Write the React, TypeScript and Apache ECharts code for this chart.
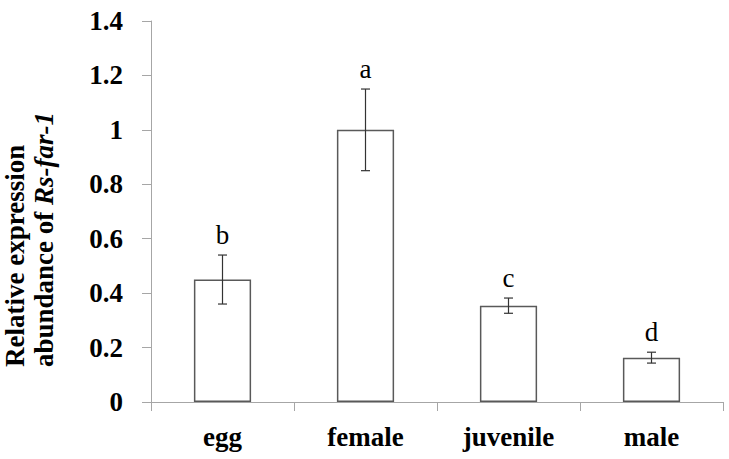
import React, { useEffect, useRef } from "react";
import * as echarts from "echarts";

const categories = ["egg", "female", "juvenile", "male"];
const means = [0.45, 1.0, 0.354, 0.163];
const errors = [0.09, 0.15, 0.028, 0.02];
const letters = ["b", "a", "c", "d"];
const yTicks = { min: 0, max: 1.4, interval: 0.2 };

const SERIF = "Liberation Serif";

export default function App() {
  const ref = useRef<HTMLDivElement>(null);
  useEffect(() => {
    if (!ref.current) return;
    const chart = echarts.init(ref.current, null, { renderer: "svg" });
    const errData = means.map((m, i) => [i, m - errors[i], m + errors[i]]);
    chart.setOption({
      animation: false,
      grid: { left: 151, right: 6, top: 21, bottom: 57 },
      xAxis: {
        type: "category",
        data: categories,
        axisLine: { lineStyle: { color: "#a6a6a6", width: 1 } },
        axisTick: { show: true, length: 9, lineStyle: { color: "#a6a6a6" } },
        axisLabel: {
          fontFamily: SERIF,
          fontWeight: "bold",
          fontSize: 27,
          color: "#000",
          margin: 21,
        },
      },
      yAxis: {
        type: "value",
        min: yTicks.min,
        max: yTicks.max,
        interval: yTicks.interval,
        splitLine: { show: false },
        axisLine: { show: true, lineStyle: { color: "#a6a6a6", width: 1 } },
        axisTick: { show: true, length: 9, lineStyle: { color: "#a6a6a6" } },
        axisLabel: {
          fontFamily: SERIF,
          fontWeight: "bold",
          fontSize: 27,
          color: "#000",
          margin: 28,
        },
      },
      graphic: [
        {
          type: "text",
          x: 0,
          y: 367,
          rotation: Math.PI / 2,
          style: {
            text: "{b|Relative expression}\n{b|abundance of }{i|Rs-far-1}",
            textAlign: "left",
            textVerticalAlign: "top",
            fill: "#000",
            rich: {
              b: { fontFamily: SERIF, fontWeight: "bold", fontSize: 27, lineHeight: 29, fill: "#000" },
              i: { fontFamily: SERIF, fontWeight: "bold", fontStyle: "italic", fontSize: 27, lineHeight: 29, fill: "#000" },
            },
          },
        },
      ],
      series: [
        {
          type: "bar",
          data: means,
          barWidth: "40%",
          z: 2,
          itemStyle: { color: "#fff", borderColor: "#595959", borderWidth: 1.5 },
        },
        {
          type: "custom",
          data: errData,
          z: 10,
          renderItem: (params: any, api: any) => {
            const i = api.value(0);
            const lo = api.coord([i, api.value(1)]);
            const hi = api.coord([i, api.value(2)]);
            const cap = 4.5;
            const style = { stroke: "#333", lineWidth: 1.2 };
            return {
              type: "group",
              children: [
                { type: "line", shape: { x1: hi[0], y1: hi[1], x2: lo[0], y2: lo[1] }, style },
                { type: "line", shape: { x1: hi[0] - cap, y1: hi[1], x2: hi[0] + cap, y2: hi[1] }, style },
                { type: "line", shape: { x1: lo[0] - cap, y1: lo[1], x2: lo[0] + cap, y2: lo[1] }, style },
                {
                  type: "text",
                  x: hi[0],
                  y: hi[1] - 7,
                  style: {
                    text: letters[params.dataIndex],
                    textAlign: "center",
                    textVerticalAlign: "bottom",
                    fontFamily: SERIF,
                    fontSize: 27,
                    fill: "#000",
                  },
                },
              ],
            };
          },
        },
      ],
    });
    return () => chart.dispose();
  }, []);
  return <div ref={ref} style={{ width: 729, height: 459, position: "fixed", left: 0, top: 0, background: "#fff" }} />;
}
